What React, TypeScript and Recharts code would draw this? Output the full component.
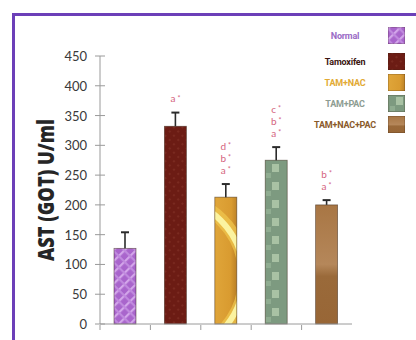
import React from "react";
import { BarChart, Bar, Cell, XAxis, YAxis, LabelList, Label } from "recharts";

const groups = ["Normal", "Tamoxifen", "TAM+NAC", "TAM+PAC", "TAM+NAC+PAC"];
const means = [127, 332, 213, 275, 200];
const sems = [27, 23, 22, 22, 8];
const sigMarks = [[], ["a"], ["d", "b", "a"], ["c", "b", "a"], ["b", "a"]];
const yTicks = [0, 50, 100, 150, 200, 250, 300, 350, 400, 450];

const fills = [
  "url(#normalHatch)",
  "url(#tamDots)",
  "url(#nacGold)",
  "url(#pacBlocks)",
  "url(#triBrown)",
];
// the gold bar gets a bright curved streak near its top
const glowArc = [false, false, true, false, false];
const legendText = ["#9a6cc6", "#3b1610", "#e2aa34", "#8d9c92", "#8a5a2a"];

const data = groups.map((name, i) => ({
  name,
  mean: means[i],
  sem: sems[i],
  marks: sigMarks[i],
}));

const FONT = "Lato, 'Open Sans', sans-serif";

// bar body plus a one-sided (upward) SEM whisker
const BarWithError = (props: any) => {
  const { x, y, width, height, fill, payload, index } = props;
  const errLen = payload.mean ? (height * payload.sem) / payload.mean : 0;
  const cx = x + width / 2;
  const clipId = `bar-clip-${index}`;
  return (
    <g>
      <rect x={x} y={y} width={width} height={height} fill={fill} />
      {glowArc[index] && (
        <g>
          <clipPath id={clipId}>
            <rect x={x} y={y} width={width} height={height} />
          </clipPath>
          <g clipPath={`url(#${clipId})`}>
            <circle cx={x - 50} cy={y + 79} r={80} fill="none" stroke="#efc64e" strokeOpacity={0.75} strokeWidth={13} />
            <circle cx={x - 50} cy={y + 79} r={79} fill="none" stroke="#fbf3a0" strokeWidth={6} />
          </g>
        </g>
      )}
      <rect x={x} y={y} width={width} height={height} fill="none" stroke="rgba(50,30,15,0.55)" strokeWidth={0.8} />
      <line x1={cx} x2={cx} y1={y} y2={y - errLen} stroke="#2b2b2b" strokeWidth={1.6} />
      <line x1={cx - 4} x2={cx + 4} y1={y - errLen} y2={y - errLen} stroke="#2b2b2b" strokeWidth={2} />
    </g>
  );
};

const SigLabels = (props: any) => {
  const { x, y, width, height, index } = props;
  const row = data[index];
  if (!row || !row.marks.length) return null;
  const errLen = (height * row.sem) / row.mean;
  const base = y - errLen - 13;
  const n = row.marks.length;
  return (
    <g>
      {row.marks.map((m: string, k: number) => (
        <text
          key={m}
          x={x + width / 2}
          y={base - (n - 1 - k) * 12}
          textAnchor="middle"
          dominantBaseline="middle"
          fill="#d4647e"
          fontFamily={FONT}
          fontSize={10}
        >
          {m}
          <tspan fontSize={7} dx={2} dy={-1}>*</tspan>
        </text>
      ))}
    </g>
  );
};

const YTick = (props: any) => {
  const { x, y, payload } = props;
  return (
    <g>
      <line x1={x - 5} x2={x + 5} y1={y} y2={y} stroke="#9a9a9a" strokeWidth={1} />
      <text x={x - 13} y={y} textAnchor="end" dominantBaseline="central" fill="#3a3a3a" fontFamily={FONT} fontSize={13}>
        {payload.value}
      </text>
    </g>
  );
};

// small marks under the axis on the category boundaries
const XTick = (props: any) => {
  const { x, y, payload, index } = props;
  const half = payload.offset ?? 25;
  const marks = [];
  if (index === 0) marks.push(x - half);
  if (index < groups.length - 1) marks.push(x + half);
  return (
    <g>
      {marks.map((bx) => (
        <line key={bx} x1={bx} x2={bx} y1={y - 7} y2={y - 2} stroke="#9a9a9a" strokeWidth={1} />
      ))}
    </g>
  );
};

const AxisTitle = (props: any) => {
  const { viewBox } = props;
  const cx = viewBox.x + 45;
  const cy = viewBox.y + viewBox.height / 2;
  return (
    <text
      x={cx}
      y={cy}
      transform={`rotate(-90, ${cx}, ${cy})`}
      textAnchor="middle"
      dominantBaseline="central"
      fill="#262626"
      fontFamily="'Open Sans', sans-serif"
      fontWeight={800}
      fontSize={22}
      textLength={142}
      lengthAdjust="spacingAndGlyphs"
    >
      AST (GOT) U/ml
    </text>
  );
};

const LegendBox = () => (
  <div style={{ position: "absolute", left: 305, top: 27, display: "flex", flexDirection: "column" }}>
    {groups.map((g, i) => (
      <div key={g} style={{ display: "flex", alignItems: "center", height: 17, marginBottom: i === 0 ? 9 : 4 }}>
        <div
          style={{
            width: 80,
            textAlign: "center",
            color: legendText[i],
            fontFamily: "Roboto, sans-serif",
            fontWeight: 700,
            fontSize: 9,
            letterSpacing: -0.2,
            whiteSpace: "nowrap",
          }}
        >
          {g}
        </div>
        <svg width={17} height={17} style={{ marginLeft: 3 }}>
          <rect x={0} y={0} width={17} height={17} fill={fills[i]} stroke="rgba(50,30,15,0.5)" strokeWidth={0.8} />
        </svg>
      </div>
    ))}
  </div>
);

export default function App() {
  return (
    <div style={{ position: "absolute", left: 0, top: 0, width: 416, height: 340, background: "#fff", overflow: "hidden" }}>
      <div
        style={{
          position: "absolute",
          left: 12,
          top: 13,
          width: 420,
          height: 340,
          borderLeft: "3px solid #6c3fb8",
          borderTop: "3px solid #6c3fb8",
        }}
      />
      <BarChart
        width={416}
        height={340}
        data={data}
        margin={{ top: 56, right: 64, bottom: 10, left: 0 }}
        style={{ position: "absolute", left: 0, top: 0 }}
      >
        <defs>
          <pattern id="normalHatch" width="8" height="8" patternUnits="userSpaceOnUse" patternTransform="rotate(45)">
            <rect width="8" height="8" fill="#a965cc" />
            <rect x="0" y="0" width="2.2" height="8" fill="#d3a6ea" />
            <rect x="0" y="0" width="8" height="2.2" fill="#c08ade" />
          </pattern>
          <pattern id="tamDots" width="6" height="6" patternUnits="userSpaceOnUse" patternTransform="rotate(45)">
            <rect width="6" height="6" fill="#6c1c14" />
            <circle cx="3" cy="3" r="1" fill="#7f2e24" />
          </pattern>
          <linearGradient id="nacGold" x1="0" y1="0" x2="1" y2="0.08">
            <stop offset="0" stopColor="#e0a63a" />
            <stop offset="0.75" stopColor="#d99b30" />
            <stop offset="1" stopColor="#bf8428" />
          </linearGradient>
          <pattern id="pacBlocks" width="22" height="18" patternUnits="userSpaceOnUse">
            <rect width="22" height="18" fill="#7d9a80" />
            <rect x="8" y="2" width="7" height="8" fill="#a9c2a4" />
            <rect x="2" y="11" width="5" height="5" fill="#8fac90" />
          </pattern>
          <linearGradient id="triBrown" x1="0" y1="0" x2="0" y2="1">
            <stop offset="0" stopColor="#a87644" />
            <stop offset="0.5" stopColor="#b5875a" />
            <stop offset="0.6" stopColor="#9a6a3a" />
            <stop offset="1" stopColor="#986636" />
          </linearGradient>
        </defs>
        <XAxis dataKey="name" height={6} tickLine={false} axisLine={{ stroke: "#9a9a9a" }} tick={<XTick />} interval={0} />
        <YAxis
          width={100}
          domain={[0, 450]}
          ticks={yTicks}
          interval={0}
          tickLine={false}
          tickSize={0}
          tickMargin={0}
          axisLine={{ stroke: "#9a9a9a" }}
          tick={<YTick />}
        >
          <Label content={<AxisTitle />} />
        </YAxis>
        <Bar dataKey="mean" barSize={22} isAnimationActive={false} shape={<BarWithError />}>
          {data.map((d, i) => (
            <Cell key={d.name} fill={fills[i]} />
          ))}
          <LabelList dataKey="mean" content={<SigLabels />} />
        </Bar>
      </BarChart>
      <LegendBox />
    </div>
  );
}
